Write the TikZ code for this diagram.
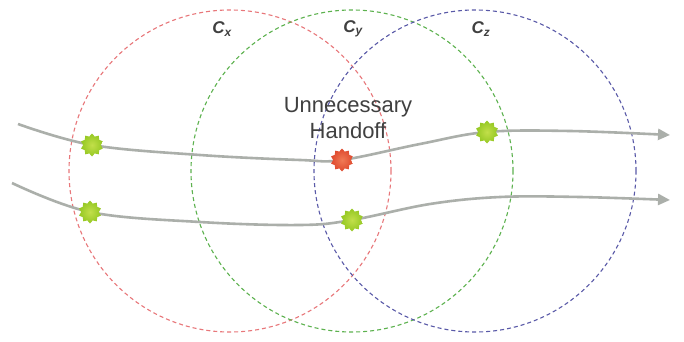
\documentclass[tikz,border=0pt]{standalone}
\usepackage{fontspec}
\setmainfont{Liberation Sans}
\usetikzlibrary{shapes.geometric,arrows.meta}
\definecolor{cred}{HTML}{E8777A}
\definecolor{cgreen}{HTML}{5DB24F}
\definecolor{cblue}{HTML}{5A5AA8}
\definecolor{track}{HTML}{ABAFAA}
\definecolor{dotgreen}{HTML}{95C823}
\definecolor{dotgreenin}{HTML}{C2DF4A}
\definecolor{dotred}{HTML}{DF4A2E}
\definecolor{dotredin}{HTML}{F07A55}
\definecolor{txt}{HTML}{404040}
\tikzset{
  cell/.style={circle,draw=#1,line width=1.1pt,dash pattern=on 4pt off 3pt,minimum size=322pt,inner sep=0pt},
  celllabel/.style={text=txt,font=\fontsize{17}{19}\selectfont\bfseries\itshape},
  pathline/.style={draw=track,line width=2.6pt,-{Triangle[length=12pt,width=11pt]}},
  spot/.style={star,star points=10,star point ratio=1.3,inner color=#1in,outer color=#1,draw=none,minimum size=23pt,inner sep=0pt},
}
\begin{document}
\begin{tikzpicture}[x=1pt,y=-1pt]
\useasboundingbox (0,0) rectangle (684,342);
\fill[white] (0,0) rectangle (684,342);
\node[cell=cred] (cx) at (230,171) {};
\node[cell=cgreen] (cy) at (352,171) {};
\node[cell=cblue] (cz) at (475,171) {};
\node[celllabel] (lx) at (222,29) {C\textsubscript{x}};
\node[celllabel] (ly) at (353,29) {C\textsubscript{y}};
\node[celllabel] (lz) at (481,29) {C\textsubscript{z}};
\draw[pathline] plot[smooth,tension=0.6] coordinates {(18,124) (92,145) (200,155) (300,160) (342,160) (420,144) (487,132) (570,131) (670,135)};
\draw[pathline] plot[smooth,tension=0.6] coordinates {(12,183) (90,212) (200,222) (300,225) (352,220) (430,204) (500,197) (580,197) (670,200)};
\node[spot=dotgreen] (g1) at (92,145) {};
\node[spot=dotred] (r1) at (342,160) {};
\node[spot=dotgreen] (g2) at (487,132) {};
\node[spot=dotgreen] (g3) at (90,212) {};
\node[spot=dotgreen] (g4) at (352,220) {};
\node[text=txt,font=\fontsize{22}{26}\selectfont,align=center] (uh) at (348,118) {Unnecessary\\Handoff};
\end{tikzpicture}
\end{document}
